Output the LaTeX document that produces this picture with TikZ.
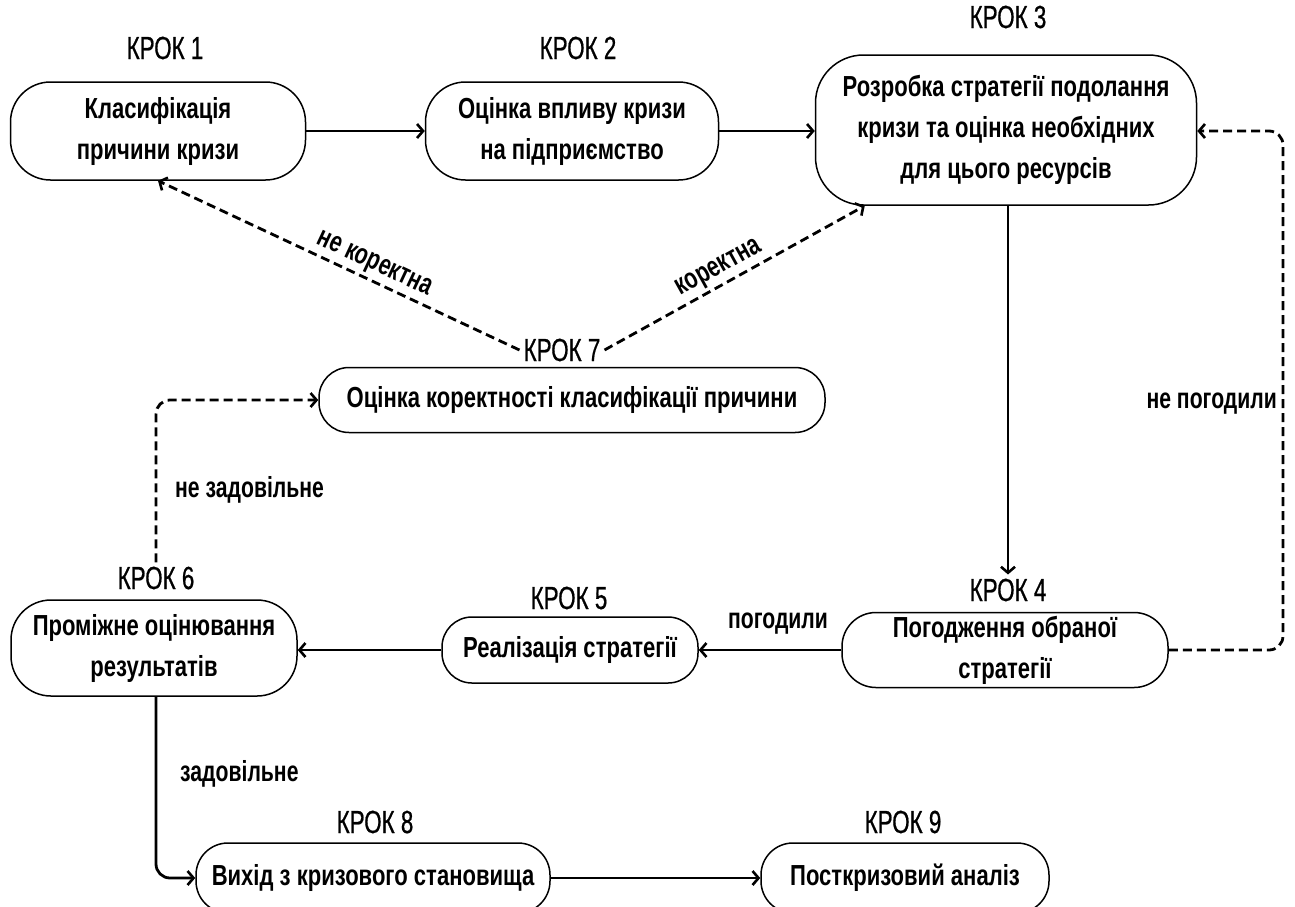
\documentclass[tikz,border=0pt]{standalone}
\usepackage{fontspec}
\setmainfont{Liberation Sans}
\newfontfamily\stepfont[FakeStretch=0.70,FakeBold=0.6]{Liberation Sans}
\newfontfamily\boxfont[FakeStretch=0.76]{Liberation Sans Bold}
\newfontfamily\lblfont[FakeStretch=0.73]{Liberation Sans Bold}
\usetikzlibrary{arrows.meta}
\tikzset{
  stepbox/.style={draw, line width=1.5pt, rounded corners=#1, align=center,
    font=\boxfont\fontsize{29}{41}\selectfont, inner sep=0pt},
  steplbl/.style={font=\stepfont\fontsize{32}{32}\selectfont, inner sep=4pt},
  edgelbl/.style={font=\lblfont\fontsize{29}{29}\selectfont, inner sep=0pt},
  flow/.style={line width=2.8pt, -{Straight Barb[length=6pt,width=14pt,line width=2.6pt]}},
  dflow/.style={flow, dash pattern=on 9pt off 5pt},
}
\begin{document}
\begin{tikzpicture}[x=1pt,y=-1pt]
\useasboundingbox (0,0) rectangle (1295,906);
% step labels
\node[steplbl] (k1) at (165,48) {КРОК 1};
\node[steplbl] (k2) at (578,48) {КРОК 2};
\node[steplbl] (k3) at (1008,17) {КРОК 3};
\node[steplbl] (k7) at (562,350) {КРОК 7};
\node[steplbl] (k4) at (1008,590) {КРОК 4};
\node[steplbl] (k5) at (569,598) {КРОК 5};
\node[steplbl] (k6) at (156,578) {КРОК 6};
\node[steplbl] (k8) at (375,822) {КРОК 8};
\node[steplbl] (k9) at (903,822) {КРОК 9};
% boxes
\node[stepbox=40pt, minimum width=295pt, minimum height=98pt] (b1) at (158,131) {Класифікація\\причини кризи};
\node[stepbox=40pt, minimum width=293pt, minimum height=98pt] (b2) at (572,131) {Оцінка впливу кризи\\на підприємство};
\node[stepbox=48pt, minimum width=381pt, minimum height=150pt] (b3) at (1006,130) {Розробка стратегії подолання\\кризи та оцінка необхідних\\для цього ресурсів};
\node[stepbox=30pt, minimum width=506pt, minimum height=65pt] (b7) at (572,400) {Оцінка коректності класифікації причини};
\node[stepbox=34pt, minimum width=326pt, minimum height=75pt] (b4) at (1005,650) {Погодження обраної\\стратегії};
\node[stepbox=30pt, minimum width=256pt, minimum height=66pt] (b5) at (570,650) {Реалізація стратегії};
\node[stepbox=40pt, minimum width=286pt, minimum height=96pt] (b6) at (154,648) {Проміжне оцінювання\\результатів};
\node[stepbox=32pt, minimum width=354pt, minimum height=70pt] (b8) at (373,878) {Вихід з кризового становища};
\node[stepbox=32pt, minimum width=288pt, minimum height=70pt] (b9) at (905,878) {Посткризовий аналіз};
% connectors
\draw[flow] (b1) -- (b2);
\draw[flow] (b2.east) -- (b3.west |- b2.east);
\draw[flow] (b3.south -| k4.north) -- (k4.north);
\draw[flow] (b4.west) -- node[edgelbl, above=14pt, xshift=8pt] {погодили} (b5.east |- b4.west);
\draw[flow] (b5.west) -- (b6.east |- b5.west);
\coordinate (r1) at (1283,131);
\draw[dflow, rounded corners=14pt] (b4.east) -| (r1) -- (b3.east |- r1);
\node[edgelbl, anchor=east] (lng) at (1277,404) {не погодили};
\draw[dflow] (k7.west) -- node[edgelbl, sloped, above=3pt, pos=0.42] {не коректна} (b1.south);
\draw[dflow] (k7.east) -- node[edgelbl, sloped, above=3pt, pos=0.47] {коректна} ([xshift=50pt]b3.south west);
\draw[dflow, rounded corners=14pt] (k6.north) |- (b7.west);
\node[edgelbl, anchor=west] (lnz) at (175,490) {не задовільне};
\draw[flow, rounded corners=14pt] (k6.center |- b6.south) |- (b8.west);
\node[edgelbl, anchor=west] (lz) at (180,774) {задовільне};
\draw[flow] (b8) -- (b9);
\end{tikzpicture}
\end{document}
